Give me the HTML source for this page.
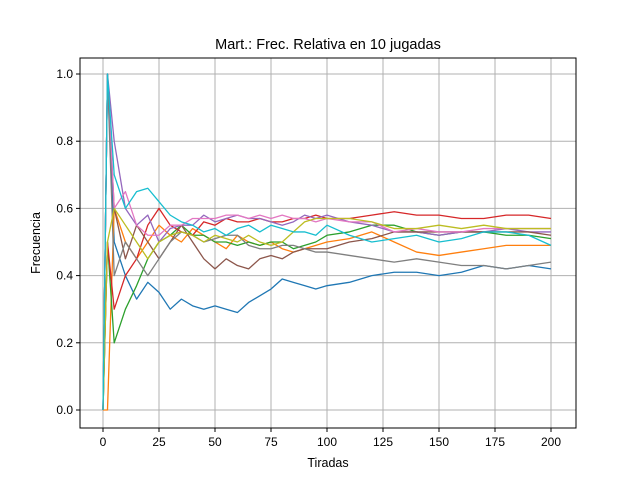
<!DOCTYPE html>
<html><head><meta charset="utf-8"><style>
body{margin:0;background:#fff;}
svg{display:block;font-family:"Liberation Sans","DejaVu Sans",sans-serif;}
</style></head><body>
<svg id="chart" width="640" height="480" xmlns="http://www.w3.org/2000/svg"></svg>
<script>
const tiradas=[0,2,5,10,15,20,25,30,35,40,45,50,55,60,65,70,75,80,85,90,95,100,110,120,130,140,150,160,170,180,190,200];
const serie0=[0,1,0.5,0.4,0.33,0.38,0.35,0.30,0.33,0.31,0.30,0.31,0.30,0.29,0.32,0.34,0.36,0.39,0.38,0.37,0.36,0.37,0.38,0.40,0.41,0.41,0.40,0.41,0.43,0.42,0.43,0.42];
const serie1=[0,0,0.6,0.5,0.45,0.5,0.55,0.52,0.50,0.54,0.52,0.50,0.48,0.52,0.50,0.49,0.50,0.48,0.47,0.48,0.49,0.50,0.51,0.53,0.50,0.47,0.46,0.47,0.48,0.49,0.49,0.49];
const serie2=[0,0.5,0.2,0.3,0.37,0.45,0.50,0.52,0.55,0.52,0.52,0.50,0.50,0.49,0.50,0.49,0.50,0.50,0.48,0.49,0.50,0.52,0.53,0.55,0.55,0.53,0.52,0.53,0.53,0.52,0.52,0.51];
const serie3=[0,0.5,0.3,0.4,0.45,0.55,0.60,0.55,0.53,0.52,0.56,0.55,0.57,0.56,0.56,0.57,0.56,0.56,0.57,0.57,0.58,0.57,0.57,0.58,0.59,0.58,0.58,0.57,0.57,0.58,0.58,0.57];
const serie4=[0,1,0.8,0.6,0.55,0.58,0.50,0.54,0.55,0.55,0.58,0.56,0.57,0.58,0.57,0.57,0.56,0.55,0.56,0.58,0.57,0.58,0.56,0.55,0.53,0.53,0.52,0.53,0.53,0.54,0.53,0.53];
const serie5=[0,1,0.6,0.45,0.55,0.50,0.45,0.50,0.55,0.50,0.45,0.42,0.45,0.43,0.42,0.45,0.46,0.45,0.47,0.48,0.48,0.48,0.50,0.51,0.53,0.53,0.53,0.53,0.53,0.53,0.53,0.52];
const serie6=[0,1,0.6,0.65,0.55,0.52,0.52,0.55,0.55,0.57,0.57,0.57,0.58,0.58,0.57,0.58,0.57,0.58,0.57,0.57,0.56,0.57,0.56,0.56,0.53,0.54,0.53,0.53,0.54,0.54,0.54,0.54];
const serie7=[0,1,0.4,0.5,0.45,0.40,0.45,0.50,0.53,0.52,0.50,0.51,0.52,0.52,0.49,0.48,0.48,0.49,0.49,0.48,0.47,0.47,0.46,0.45,0.44,0.45,0.44,0.43,0.43,0.42,0.43,0.44];
const serie8=[0,0.5,0.6,0.55,0.5,0.45,0.50,0.52,0.53,0.52,0.50,0.52,0.51,0.50,0.52,0.50,0.49,0.50,0.53,0.56,0.57,0.57,0.57,0.56,0.54,0.54,0.55,0.54,0.55,0.54,0.54,0.54];
const serie9=[0,1,0.7,0.6,0.65,0.66,0.62,0.58,0.56,0.55,0.53,0.54,0.52,0.54,0.55,0.53,0.55,0.54,0.53,0.53,0.52,0.55,0.52,0.50,0.51,0.52,0.50,0.51,0.53,0.53,0.52,0.49];
const xTicks=[0,25,50,75,100,125,150,175,200];
const yTicks=[0.0,0.2,0.4,0.6,0.8,1.0];

const NS="http://www.w3.org/2000/svg";
const svg=document.getElementById('chart');
const L=80,R=576,T=58,B=428;
const x=v=>103+(v-0)*(551-103)/200;
const y=v=>410-v*336;
function mk(tag,attrs,parent){const e=document.createElementNS(NS,tag);for(const k in attrs)e.setAttribute(k,attrs[k]);(parent||svg).appendChild(e);return e;}

const grid=mk('g',{});


xTicks.forEach(t=>{const l=mk('line',{x1:x(t),x2:x(t),y1:T,y2:B,stroke:'#b0b0b0','stroke-width':1},grid);

});
yTicks.forEach(t=>{const l=mk('line',{x1:L,x2:R,y1:y(t),y2:y(t),stroke:'#b0b0b0','stroke-width':1},grid);

});

const colors=['#1f77b4','#ff7f0e','#2ca02c','#d62728','#9467bd','#8c564b','#e377c2','#7f7f7f','#bcbd22','#17becf'];
const series=[serie0,serie1,serie2,serie3,serie4,serie5,serie6,serie7,serie8,serie9];
series.forEach((s,i)=>{
  const p=mk('polyline',{points:s.map((v,j)=>x(tiradas[j])+','+y(v)).join(' '),fill:'none',stroke:colors[i],'stroke-width':1.3,'stroke-linejoin':'round'});
  
  
});

const frame=mk('rect',{x:L,y:T,width:R-L,height:B-T,fill:'none',stroke:'#000','stroke-width':1});



xTicks.forEach(t=>{mk('line',{x1:x(t),x2:x(t),y1:B,y2:B+4,stroke:'#000'});
const tx=mk('text',{x:x(t),y:B+18,'text-anchor':'middle','font-size':12});tx.textContent=t;

});
yTicks.forEach(t=>{mk('line',{x1:L-4,x2:L,y1:y(t),y2:y(t),stroke:'#000'});
const tx=mk('text',{x:L-7,y:y(t)+4,'text-anchor':'end','font-size':12});tx.textContent=t.toFixed(1);

});

const title=mk('text',{x:328,y:49,'text-anchor':'middle','font-size':14.5});title.textContent='Mart.: Frec. Relativa en 10 jugadas';


const xl=mk('text',{x:328,y:467,'text-anchor':'middle','font-size':12.5});xl.textContent='Tiradas';


const yl=mk('text',{x:40,y:243,'text-anchor':'middle','font-size':12.5,transform:'rotate(-90 40 243)'});yl.textContent='Frecuencia';


</script>
</body></html>
